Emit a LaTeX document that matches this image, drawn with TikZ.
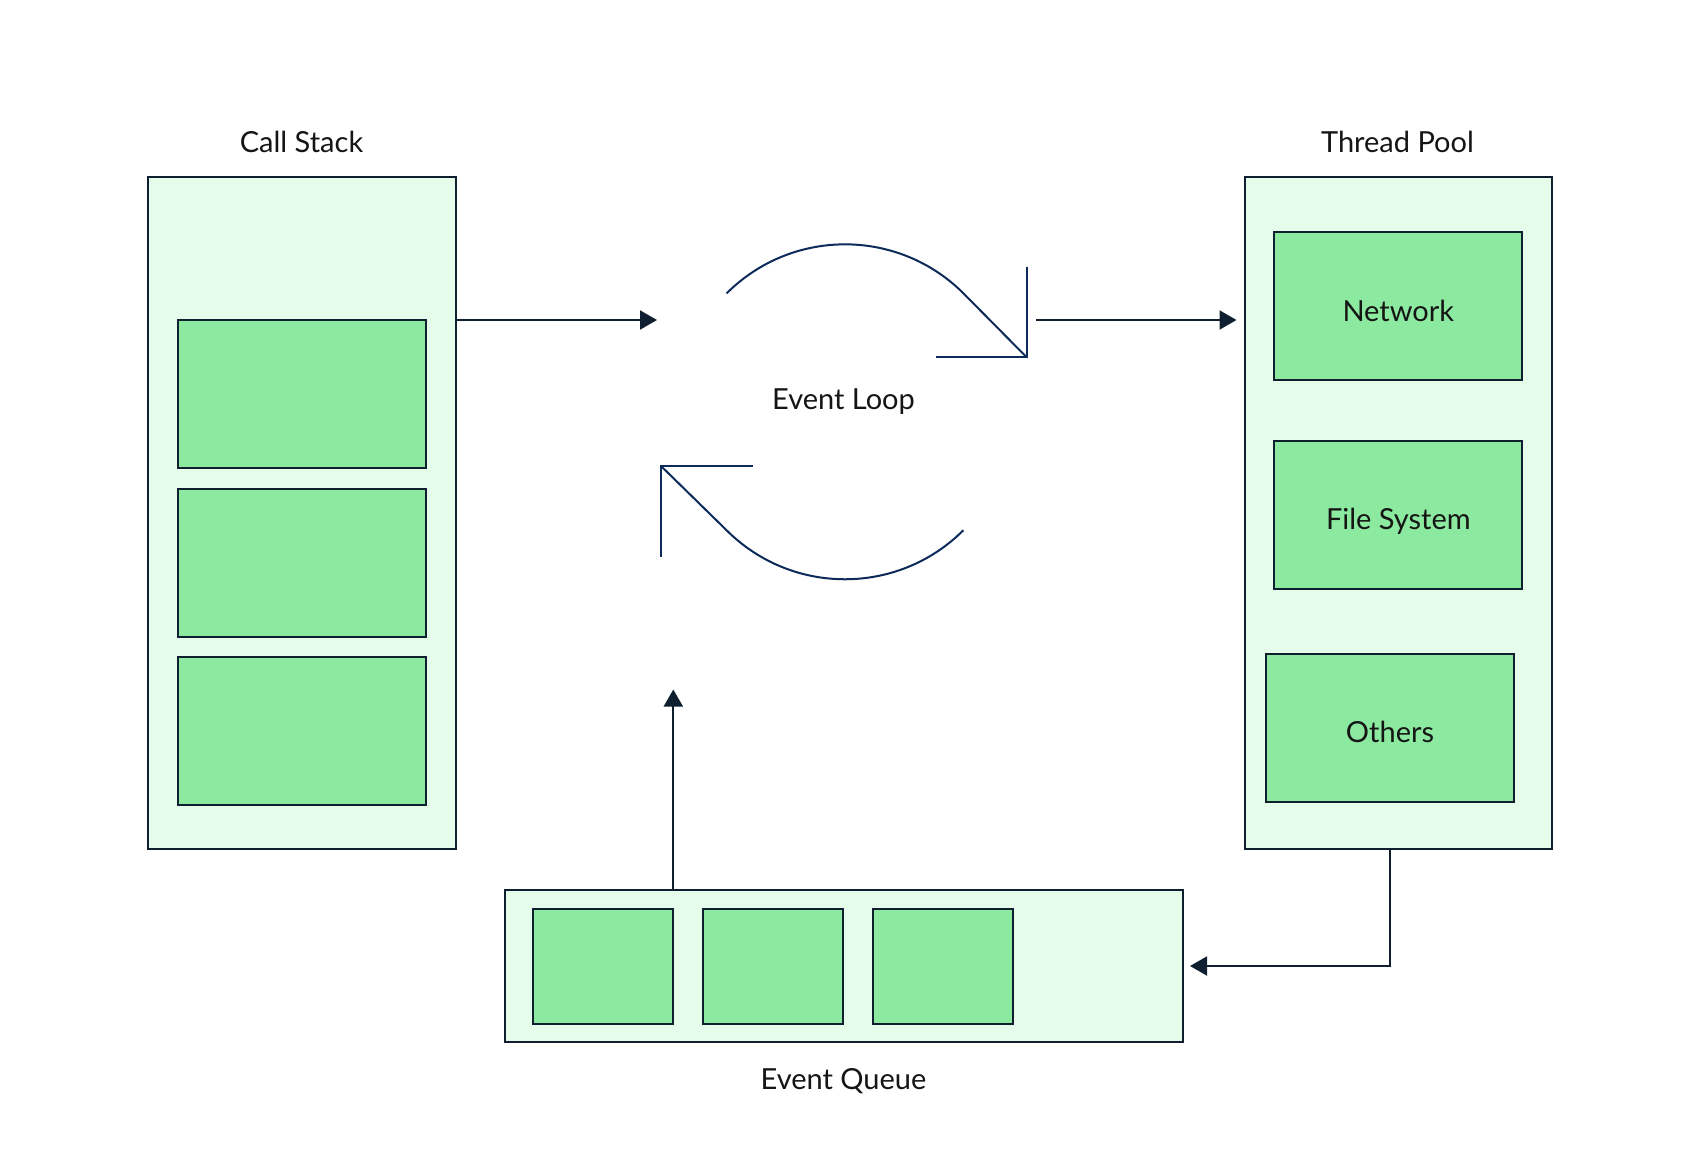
\documentclass[tikz,border=0pt]{standalone}
\usepackage{fontspec}
\setmainfont{Lato}
\usetikzlibrary{arrows.meta}
\definecolor{outerfill}{HTML}{E6FCEA}
\definecolor{innerfill}{HTML}{8CEAA0}
\definecolor{edgec}{HTML}{0F1F2F}
\definecolor{loopc}{HTML}{0D2B5A}
\definecolor{txtc}{HTML}{151515}
\begin{document}
\begin{tikzpicture}[x=1pt,y=-1pt,
  outerbox/.style={draw=edgec,fill=outerfill,line width=2pt,inner sep=0pt},
  innerbox/.style={draw=edgec,fill=innerfill,line width=2pt,inner sep=0pt,
     minimum width=248pt,minimum height=148pt,text=txtc,font=\fontsize{29}{34}\selectfont,
     text height=29.6pt,text depth=0pt},
  qbox/.style={draw=edgec,fill=innerfill,line width=2pt,inner sep=0pt,
     minimum width=140pt,minimum height=115pt},
  lbl/.style={text=txtc,font=\fontsize{29}{34}\selectfont,inner sep=0pt},
  arr/.style={draw=edgec,line width=2pt,-{Triangle[length=17pt,width=19pt]}},
  loopline/.style={draw=loopc,line width=2pt,line join=miter}]
\useasboundingbox[fill=white] (0,0) rectangle (1700,1162);

% containers
\node[outerbox,minimum width=308pt,minimum height=672pt] (cs) at (301.5,513) {};
\node[outerbox,minimum width=307pt,minimum height=672pt] (tp) at (1398,513) {};
\node[outerbox,minimum width=678pt,minimum height=152pt] (eq) at (844,966) {};

% call stack frames
\node[innerbox] (cs1) at (301.5,393.7) {};
\node[innerbox] (cs2) at (301.5,562.7) {};
\node[innerbox] (cs3) at (301.5,731.3) {};

% thread pool
\node[innerbox] (net) at (1398.3,306.3) {Network};
\node[innerbox] (fs) at (1398.3,515) {File System};
\node[innerbox] (oth) at (1390,727.5) {Others};

% queue items
\node[qbox] (q1) at (603.3,966) {};
\node[qbox] (q2) at (773,966) {};
\node[qbox] (q3) at (942.7,966) {};

% labels
\node[lbl] (lcs) at (301.5,142) {Call Stack};
\node[lbl] (ltp) at (1397.5,142) {Thread Pool};
\node[lbl] (leq) at (843.5,1081) {Event Queue};
\node[lbl] (lel) at (843.5,402) {Event Loop};

% loop symbol
\draw[loopline] (726.6,293.4) arc[start angle=-135,end angle=-45,radius=167.5] -- (1026.7,357.3);
\draw[loopline] (1026.7,266.7) -- (1026.7,357.3) -- (935.7,357.3);
\draw[loopline] (963.4,530.2) arc[start angle=45,end angle=135,radius=167.5] -- (661,466);
\draw[loopline] (752.7,466) -- (661,466) -- (661,557.3);

% connectors
\coordinate (loopin) at (657,320);
\coordinate (loopout) at (1036,320);
\coordinate (qin) at (673.3,689.5);
\draw[arr] (cs.east |- loopin) -- (loopin);
\draw[arr,shorten >=7pt] (loopout) -- (tp.west |- loopout);
\draw[arr] (eq.north -| qin) -- (qin);
\draw[arr,shorten >=6pt] ([xshift=-8pt]tp.south) |- (eq.east);
\end{tikzpicture}
\end{document}
